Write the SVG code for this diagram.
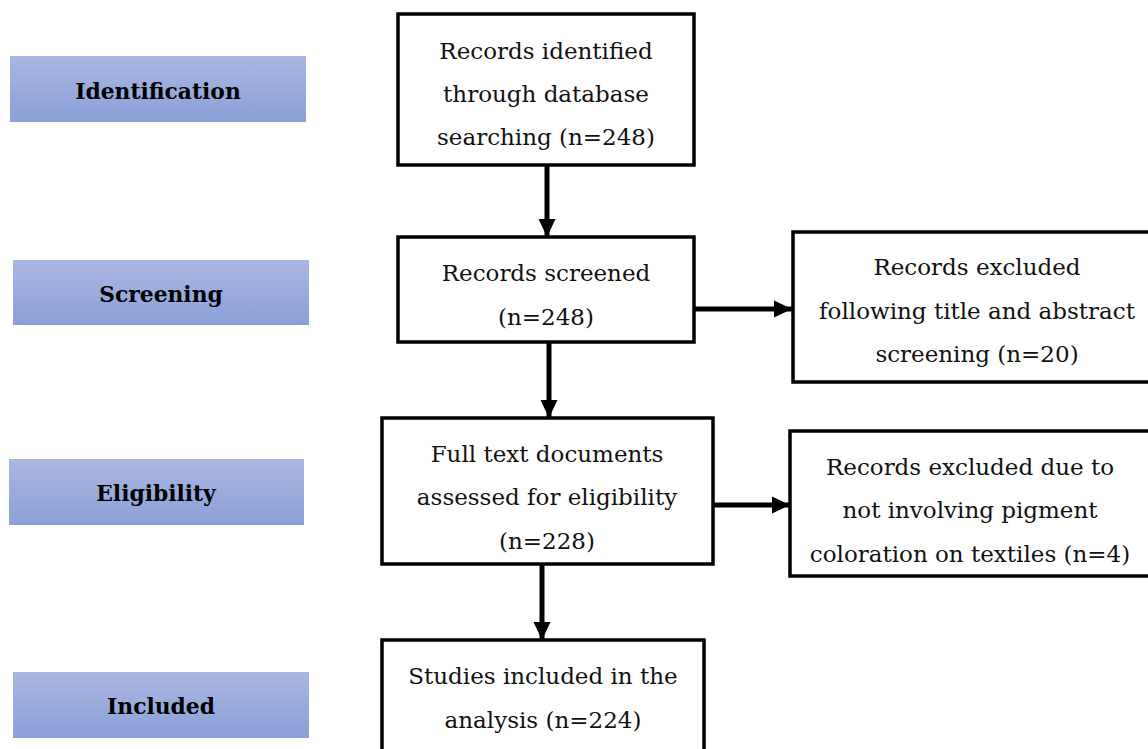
<svg xmlns="http://www.w3.org/2000/svg" width="1148" height="749" viewBox="0 0 1148 749">
<defs>
<linearGradient id="stage" x1="0" y1="0" x2="0" y2="1">
<stop offset="0" stop-color="#abb7e1"/>
<stop offset="1" stop-color="#8aa0d7"/>
</linearGradient>
<marker id="ah" markerWidth="4" markerHeight="4" refX="3.6" refY="2" orient="auto" markerUnits="strokeWidth">
<path d="M0,0.3 L3.6,2 L0,3.7 Z" fill="#000"/>
</marker>
<style>
.stage{fill:url(#stage);}
.st{font-family:"DejaVu Serif","Liberation Serif",serif;font-weight:bold;font-size:21.8px;text-anchor:middle;fill:#000;}
.box{fill:#fff;stroke:#000;stroke-width:3.5;}
.t{font-family:"DejaVu Serif","Liberation Serif",serif;font-size:23px;text-anchor:middle;fill:#111;}
.c{stroke:#000;stroke-width:5;fill:none;marker-end:url(#ah);}
</style>
</defs>
<rect width="1148" height="749" fill="#fff"/>
<g id="stage-identification"><rect class="stage" x="10" y="56" width="296" height="66"/><text class="st" x="158" y="99">Identification</text></g>
<g id="stage-screening"><rect class="stage" x="13" y="260" width="296" height="65"/><text class="st" x="161" y="302">Screening</text></g>
<g id="stage-eligibility"><rect class="stage" x="9" y="459" width="295" height="66"/><text class="st" x="156" y="501">Eligibility</text></g>
<g id="stage-included"><rect class="stage" x="13" y="672" width="296" height="66"/><text class="st" x="161" y="714">Included</text></g>

<g id="connectors">
<line class="c" x1="547" y1="165" x2="547" y2="237"/>
<line class="c" x1="694" y1="309" x2="792" y2="309"/>
<line class="c" x1="549" y1="342" x2="549" y2="418"/>
<line class="c" x1="713" y1="505" x2="790" y2="505"/>
<line class="c" x1="542" y1="564" x2="542" y2="640"/>
</g>

<g id="n-identified"><rect class="box" x="398" y="14" width="296" height="151"/>
<text class="t" x="546" y="59">Records identified</text>
<text class="t" x="546" y="102">through database</text>
<text class="t" x="546" y="145">searching (n=248)</text></g>

<g id="n-screened"><rect class="box" x="398" y="237" width="296" height="105"/>
<text class="t" x="546" y="281">Records screened</text>
<text class="t" x="546" y="325">(n=248)</text></g>

<g id="n-excluded1"><rect class="box" x="793" y="232" width="360" height="150"/>
<text class="t" x="977" y="275">Records excluded</text>
<text class="t" x="977" y="319">following title and abstract</text>
<text class="t" x="977" y="362">screening (n=20)</text></g>

<g id="n-fulltext"><rect class="box" x="382" y="418" width="331" height="146"/>
<text class="t" x="547" y="462">Full text documents</text>
<text class="t" x="547" y="505">assessed for eligibility</text>
<text class="t" x="547" y="549">(n=228)</text></g>

<g id="n-excluded2"><rect class="box" x="790" y="431" width="363" height="145"/>
<text class="t" x="970" y="475">Records excluded due to</text>
<text class="t" x="970" y="518">not involving pigment</text>
<text class="t" x="970" y="562">coloration on textiles (n=4)</text></g>

<g id="n-included"><rect class="box" x="382" y="640" width="322" height="120"/>
<text class="t" x="543" y="684">Studies included in the</text>
<text class="t" x="543" y="728">analysis (n=224)</text></g>
</svg>
